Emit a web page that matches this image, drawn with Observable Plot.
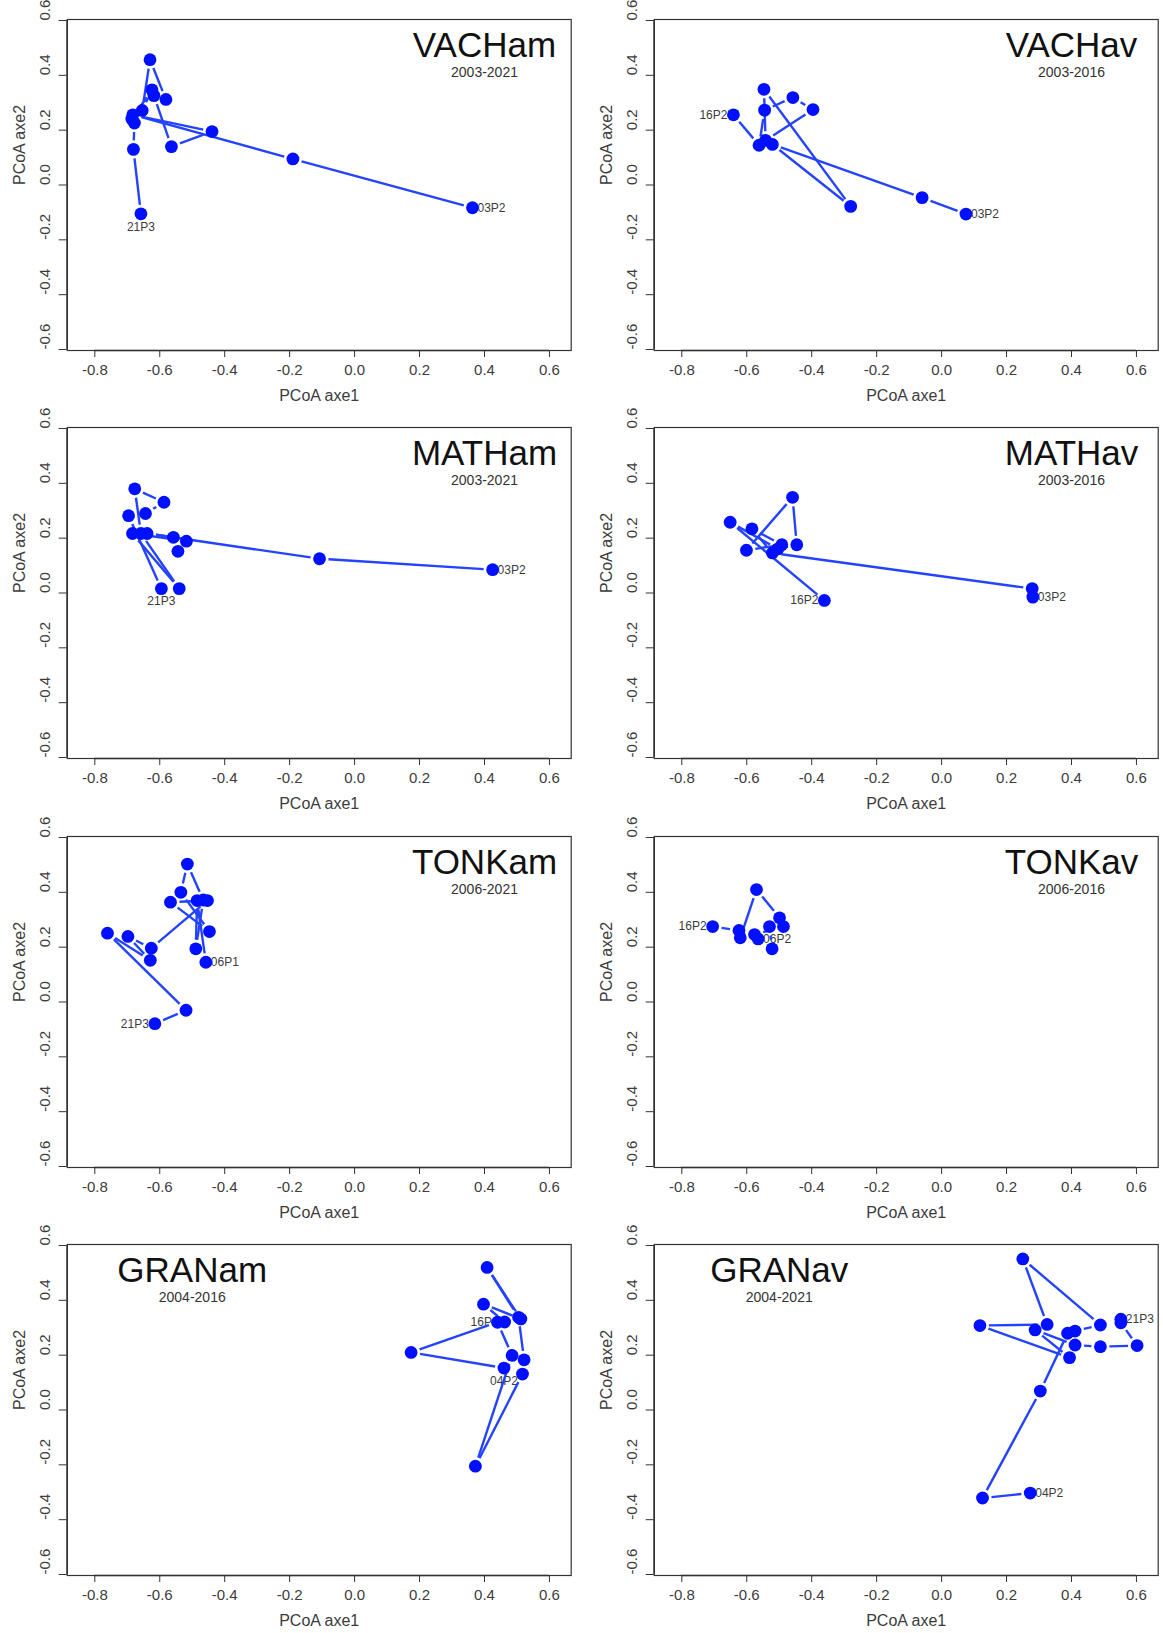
<!DOCTYPE html>
<html><head><meta charset="utf-8">
<script src="https://cdn.jsdelivr.net/npm/d3@7"></script>
<script src="https://cdn.jsdelivr.net/npm/@observablehq/plot@0.6"></script>
<style>
html,body{margin:0;padding:0;background:#fff;}
#wrap{position:relative;width:1163px;height:1633px;overflow:hidden;background:#fff;}
.panel{position:absolute;}
</style></head><body><div id="wrap"></div>
<script>
// ---- data ----
const panelNames = ["VACHam","VACHav","MATHam","MATHav","TONKam","TONKav","GRANam","GRANav"];
const panelYears = ["2003-2021","2003-2016","2003-2021","2003-2016","2006-2021","2006-2016","2004-2016","2004-2021"];
const titleX = [0.4,0.4,0.4,0.4,0.4,0.4,-0.5,-0.5];
const xTicks = [-0.8,-0.6,-0.4,-0.2,0.0,0.2,0.4,0.6];
const yTicks = [-0.6,-0.4,-0.2,0.0,0.2,0.4,0.6];

const VACHam_x = [0.363,-0.19,-0.683,-0.439,-0.564,-0.618,-0.581,-0.63,-0.654,-0.624,-0.686,-0.678,-0.681,-0.658];
const VACHam_y = [-0.083,0.095,0.256,0.195,0.14,0.326,0.312,0.457,0.272,0.347,0.241,0.226,0.13,-0.105];
const VACHam_lab = {0:"03P2",13:"21P3"};

const VACHav_x = [0.075,-0.06,-0.521,-0.28,-0.547,-0.542,-0.396,-0.458,-0.545,-0.562,-0.641];
const VACHav_y = [-0.106,-0.046,0.148,-0.078,0.349,0.163,0.275,0.319,0.273,0.145,0.256];
const VACHav_lab = {0:"03P2",10:"16P2"};

const MATHam_x = [0.425,-0.108,-0.639,-0.558,-0.544,-0.518,-0.684,-0.54,-0.658,-0.677,-0.587,-0.644,-0.696,-0.595];
const MATHam_y = [0.085,0.125,0.217,0.203,0.152,0.189,0.217,0.016,0.217,0.38,0.331,0.29,0.282,0.016];
const MATHam_lab = {0:"03P2",13:"21P3"};

const MATHav_x = [0.281,0.279,-0.521,-0.584,-0.492,-0.601,-0.459,-0.446,-0.504,-0.651,-0.361];
const MATHav_y = [-0.015,0.016,0.146,0.234,0.176,0.156,0.349,0.176,0.161,0.258,-0.027];
const MATHav_lab = {0:"03P2",10:"16P2"};

const TONKam_x = [-0.458,-0.485,-0.489,-0.466,-0.515,-0.535,-0.447,-0.567,-0.453,-0.626,-0.698,-0.629,-0.761,-0.519,-0.615];
const TONKam_y = [0.145,0.37,0.194,0.372,0.503,0.4,0.257,0.364,0.37,0.196,0.239,0.152,0.251,-0.03,-0.079];
const TONKam_lab = {0:"06P1",14:"21P3"};

const TONKav_x = [-0.565,-0.522,-0.53,-0.576,-0.487,-0.499,-0.57,-0.62,-0.624,-0.705];
const TONKav_y = [0.23,0.194,0.275,0.246,0.275,0.307,0.41,0.234,0.261,0.275];
const TONKav_lab = {0:"06P2",9:"16P2"};

const GRANam_x = [0.46,0.174,0.44,0.485,0.372,0.517,0.522,0.505,0.408,0.512,0.397,0.462];
const GRANam_y = [0.153,0.21,0.32,0.199,-0.205,0.131,0.183,0.338,0.52,0.332,0.386,0.321];
const GRANam_lab = {0:"04P2",11:"16P2"};

const GRANav_x = [0.273,0.126,0.304,0.388,0.411,0.489,0.25,0.325,0.118,0.394,0.288,0.411,0.489,0.602,0.552,0.552];
const GRANav_y = [-0.303,-0.321,0.069,0.28,0.288,0.31,0.551,0.312,0.308,0.191,0.292,0.237,0.231,0.235,0.318,0.331];
const GRANav_lab = {0:"04P2",15:"21P3"};

// ---- style / layout ----
const labelSide = {
  VACHam:{"03P2":"right","21P3":"below"}, VACHav:{"03P2":"right","16P2":"left"},
  MATHam:{"03P2":"right","21P3":"below"}, MATHav:{"03P2":"right","16P2":"left"},
  TONKam:{"06P1":"right","21P3":"left"}, TONKav:{"06P2":"right","16P2":"left"},
  GRANam:{"04P2":"below","16P2":"left"}, GRANav:{"04P2":"right","21P3":"right"}
};
const series = {
  VACHam:[VACHam_x,VACHam_y,VACHam_lab], VACHav:[VACHav_x,VACHav_y,VACHav_lab],
  MATHam:[MATHam_x,MATHam_y,MATHam_lab], MATHav:[MATHav_x,MATHav_y,MATHav_lab],
  TONKam:[TONKam_x,TONKam_y,TONKam_lab], TONKav:[TONKav_x,TONKav_y,TONKav_lab],
  GRANam:[GRANam_x,GRANam_y,GRANam_lab], GRANav:[GRANav_x,GRANav_y,GRANav_lab]
};
const W = 576, H = 408, ML = 66.7, MR = 5.3, MT = 19, MB = 58;
const xDomain = [-0.885, 0.667], yDomain = [-0.6036, 0.6036];
const GAP = 9;
const FONT = "'Liberation Sans', Arial, Helvetica, sans-serif";
const LINE = "#2343ff", DOT = "#0010ff";
const TXT = "#3c3c3c";
const fmt = d => d.toFixed(1);

function gappedSegments(xs, ys) {
  const kx = (W - ML - MR) / (xDomain[1] - xDomain[0]);
  const ky = (H - MT - MB) / (yDomain[1] - yDomain[0]);
  const out = [];
  for (let i = 0; i < xs.length - 1; i++) {
    const dx = xs[i+1] - xs[i], dy = ys[i+1] - ys[i];
    const d = Math.hypot(dx * kx, dy * ky);
    if (d <= 2 * GAP) continue;
    const f = GAP / d;
    out.push({x1: xs[i] + f*dx, y1: ys[i] + f*dy, x2: xs[i+1] - f*dx, y2: ys[i+1] - f*dy});
  }
  return out;
}

const wrap = document.getElementById("wrap");
panelNames.forEach((name, p) => {
  const [xs, ys, lab] = series[name];
  const pts = xs.map((x, i) => ({x, y: ys[i], label: lab[i] || ""}));
  const labeled = pts.filter(d => d.label);
  const side = s => labeled.filter(d => labelSide[name][d.label] === s);
  const plot = Plot.plot({
    width: W, height: H,
    marginLeft: ML, marginRight: MR, marginTop: MT, marginBottom: MB,
    x: {domain: xDomain},
    y: {domain: yDomain},
    style: {fontFamily: FONT, color: "#333", background: "transparent", overflow: "visible"},
    marks: [
      Plot.frame({stroke: "#333", strokeWidth: 1.2}),
      Plot.ruleY([yDomain[0]], {x1: xTicks[0], x2: xTicks[xTicks.length-1], stroke: "#333", strokeWidth: 1.6}),
      Plot.ruleX([xDomain[0]], {y1: yTicks[0], y2: yTicks[yTicks.length-1], stroke: "#333", strokeWidth: 1.6}),
      Plot.axisX({ticks: xTicks, tickSize: 7, tickFormat: () => "", label: null, stroke: "#333"}),
      Plot.axisY({ticks: yTicks, tickSize: 8, tickFormat: () => "", label: null, stroke: "#333"}),
      Plot.text(xTicks, {x: d => d, text: fmt, frameAnchor: "bottom", dy: 24, fontSize: 15, fill: TXT}),
      Plot.text(yTicks, {y: d => d, text: fmt, frameAnchor: "left", dx: -22, rotate: -90, fontSize: 15, fill: TXT}),
      Plot.text(["PCoA axe1"], {frameAnchor: "bottom", dy: 50, fontSize: 16, fill: TXT}),
      Plot.text(["PCoA axe2"], {frameAnchor: "left", dx: -47, rotate: -90, fontSize: 16, fill: TXT}),
      Plot.text([name], {x: titleX[p], y: 0.508, fontSize: 35, fill: "#111"}),
      Plot.text([panelYears[p]], {x: titleX[p], y: 0.412, fontSize: 14, fill: "#333"}),
      Plot.text(side("right"), {x: "x", y: "y", text: "label", textAnchor: "start", dx: 5, fontSize: 12, fill: TXT}),
      Plot.text(side("left"), {x: "x", y: "y", text: "label", textAnchor: "end", dx: -6, fontSize: 12, fill: TXT}),
      Plot.text(side("below"), {x: "x", y: "y", text: "label", dy: 13, fontSize: 12, fill: TXT}),
      Plot.link(gappedSegments(xs, ys), {x1: "x1", y1: "y1", x2: "x2", y2: "y2", stroke: LINE, strokeWidth: 2.4}),
      Plot.dot(pts, {x: "x", y: "y", r: 6.4, fill: DOT, stroke: "none"})
    ]
  });
  const div = document.createElement("div");
  div.className = "panel";
  div.style.left = (p % 2 === 0 ? 0 : 586.6) + "px";
  div.style.top = (Math.floor(p / 2) * 408.3) + "px";
  div.appendChild(plot);
  wrap.appendChild(div);
});
</script>
</body></html>
